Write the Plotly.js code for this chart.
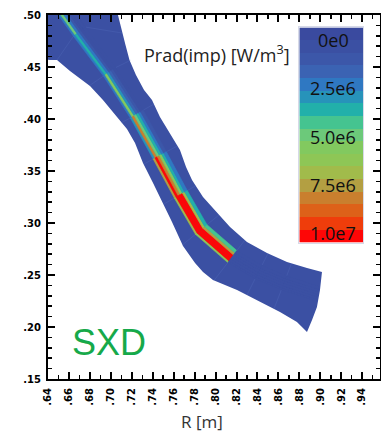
<!DOCTYPE html>
<html><head><meta charset="utf-8">
<script src="https://cdn.plot.ly/plotly-3.0.1.min.js"></script>
<style>html,body{margin:0;padding:0;background:#fff;overflow:hidden}#plot{width:381px;height:432px}</style>
</head><body><div id="plot"></div>
<script>
// ---- axis ticks ----
const xTickVals = [0.64,0.66,0.68,0.70,0.72,0.74,0.76,0.78,0.80,0.82,0.84,0.86,0.88,0.90,0.92,0.94];
const xTickText = ['.64','.66','.68','.70','.72','.74','.76','.78','.80','.82','.84','.86','.88','.90','.92','.94'];
const yTickVals = [0.15,0.20,0.25,0.30,0.35,0.40,0.45,0.50];
const yTickText = ['.15','.20','.25','.30','.35','.40','.45','.50'];

// ---- divertor leg outline (R, Z in m) ----
const legR = [0.5846,0.6324,0.6419,0.6486,0.6610,0.6801,0.6925,0.7059,0.7154,0.7231,0.7307,0.7403,0.7498,0.7584,0.7689,0.7804,0.7880,0.7975,0.8205,0.8396,0.8615,0.8777,0.8873,0.8921,0.8968,0.8997,0.9016,0.8873,0.8682,0.8491,0.8300,0.8138,0.8014,0.7880,0.7775,0.7718,0.7660,0.7565,0.7469,0.7393,0.7317,0.7240,0.7178,0.7140,0.7102,0.7068,0.7059,0.5846];
const legZ = [0.4663,0.4587,0.4567,0.4567,0.4462,0.4317,0.4183,0.4019,0.3904,0.3769,0.3577,0.3385,0.3192,0.3010,0.2779,0.2615,0.2529,0.2452,0.2356,0.2260,0.2144,0.2048,0.1952,0.2067,0.2192,0.2356,0.2529,0.2567,0.2625,0.2712,0.2817,0.2962,0.3096,0.3250,0.3413,0.3538,0.3702,0.3865,0.4019,0.4183,0.4279,0.4423,0.4567,0.4712,0.4856,0.5000,0.5240,0.5240];

// ---- flux surfaces near the separatrix (11 poloidal stations) ----
const pfrR = [0.6405,0.6643,0.6929,0.7186,0.7404,0.7606,0.7808,0.8117,0.8377,0.8628,0.8955];
const pfrZ = [0.5132,0.4796,0.4413,0.4010,0.3615,0.3240,0.2891,0.2619,0.2463,0.2357,0.2250];
const sepR = [0.6419,0.6658,0.6944,0.7202,0.7422,0.7622,0.7823,0.8128,0.8386,0.8634,0.8959];
const sepZ = [0.5144,0.4808,0.4423,0.4019,0.3625,0.3250,0.2904,0.2635,0.2481,0.2375,0.2269];
const r1R = [0.6437,0.6677,0.6964,0.7223,0.7443,0.7643,0.7841,0.8143,0.8396,0.8643,0.8964];
const r1Z = [0.5161,0.4822,0.4437,0.4032,0.3637,0.3262,0.2919,0.2654,0.2502,0.2397,0.2292];
const r2R = [0.6455,0.6696,0.6983,0.7243,0.7464,0.7664,0.7859,0.8157,0.8407,0.8651,0.8969];
const r2Z = [0.5176,0.4837,0.4450,0.4044,0.3648,0.3274,0.2935,0.2673,0.2524,0.2420,0.2316];
const r3R = [0.6473,0.6714,0.7003,0.7264,0.7485,0.7684,0.7878,0.8171,0.8418,0.8660,0.8974];
const r3Z = [0.5192,0.4852,0.4464,0.4057,0.3660,0.3286,0.2950,0.2692,0.2545,0.2442,0.2339];
const r4R = [0.6491,0.6733,0.7023,0.7284,0.7506,0.7705,0.7896,0.8185,0.8429,0.8669,0.8980];
const r4Z = [0.5208,0.4866,0.4478,0.4069,0.3671,0.3297,0.2965,0.2712,0.2566,0.2464,0.2363];
const r5R = [0.6512,0.6756,0.7046,0.7309,0.7530,0.7730,0.7918,0.8203,0.8442,0.8679,0.8986];
const r5Z = [0.5227,0.4884,0.4494,0.4085,0.3685,0.3312,0.2984,0.2735,0.2592,0.2491,0.2391];

// mesh cross-lines ends (stations 1..9)
const meshLR = [0.6486,0.6791,0.7097,0.7317,0.7508,0.7684,0.7985,0.8300,0.8558];
const meshLZ = [0.4567,0.4317,0.3962,0.3567,0.3183,0.2790,0.2447,0.2308,0.2175];
const meshOR = [0.7107,0.7192,0.7412,0.7636,0.7808,0.8033,0.8281,0.8501,0.8725];
const meshOZ = [0.4827,0.4567,0.4144,0.3740,0.3356,0.3077,0.2837,0.2708,0.2612];

// ---- Prad(imp) values [W/m^3] per ring, per poloidal segment (top -> target) ----
const pradPFR  = [2.0e6,2.0e6,2.5e6,3.0e6,7.5e6,7.0e6,6.0e6,3e5,3e5,3e5];
const pradSOL1 = [5.0e6,3.5e6,5.5e6,8.5e6,1.0e7,1.0e7,1.0e7,5e5,4e5,3e5];
const pradSOL2 = [2.5e6,2.0e6,3.0e6,5.0e6,8.0e6,1.0e7,1.0e7,4e5,4e5,3e5];
const pradSOL3 = [1.0e6,1.0e6,1.5e6,3.5e6,5.5e6,1.0e7,1.0e7,3e5,3e5,2e5];
const pradSOL4 = [5e5,5e5,1.0e6,2.0e6,3.5e6,7.0e6,7.5e6,2e5,2e5,2e5];
const pradSOL5 = [2e5,2e5,5e5,1.0e6,2.0e6,3.5e6,4.0e6,1e5,1e5,1e5];

// ---- colour scale (17 discrete levels) ----
const cbColors = ['#3a4a9f','#3b50a3','#3c57a9','#3b63b3','#2f78c2','#2793ba','#22b0aa','#45c490','#6cc97a','#82c95f','#8ec656','#a1bb4b','#b39f42','#c97f2e','#dd6119','#ef3d0b','#fe0606'];
const cbMin = -656250, cbMax = 1.05e7;
const cbTickVals = [0, 2.5e6, 5.0e6, 7.5e6, 1.0e7];
const cbTickText = ['0e0','2.5e6','5.0e6','7.5e6','1.0e7'];

const nBand = cbColors.length;
const bandW = (cbMax - cbMin) / nBand;
function bandColor(v){
  let i = Math.floor((v - cbMin) / bandW + 1e-9);
  i = Math.max(0, Math.min(nBand - 1, i));
  return cbColors[i];
}

const traces = [];
traces.push({type:'scatter', mode:'lines', x:legR, y:legZ, fill:'toself',
  fillcolor: bandColor(0), line:{width:0, color:bandColor(0)}, hoverinfo:'skip', showlegend:false});

// faint mesh lines
const mx = [], my = [];
for (let k = 0; k < meshLR.length; k++) {
  mx.push(meshLR[k], pfrR[k+1], null, r5R[k+1], meshOR[k], null);
  my.push(meshLZ[k], pfrZ[k+1], null, r5Z[k+1], meshOZ[k], null);
}
traces.push({type:'scatter', mode:'lines', x:mx, y:my, line:{width:0.6, color:'rgba(105,135,210,0.3)'},
  hoverinfo:'skip', showlegend:false});

const surfR = [pfrR, sepR, r1R, r2R, r3R, r4R, r5R];
const surfZ = [pfrZ, sepZ, r1Z, r2Z, r3Z, r4Z, r5Z];
const ringVals = [pradPFR, pradSOL1, pradSOL2, pradSOL3, pradSOL4, pradSOL5];
for (let r = 0; r < ringVals.length; r++) {
  for (let k = 0; k < ringVals[r].length; k++) {
    const a = surfR[r], b = surfR[r+1], az = surfZ[r], bz = surfZ[r+1];
    const c = bandColor(ringVals[r][k]);
    traces.push({type:'scatter', mode:'lines',
      x:[a[k], a[k+1], b[k+1], b[k], a[k]],
      y:[az[k], az[k+1], bz[k+1], bz[k], az[k]],
      fill:'toself', fillcolor:c, line:{width:0.6, color:c}, hoverinfo:'skip', showlegend:false});
  }
}

// colour bar drawn as a heatmap on its own axes
const cbCenters = cbColors.map((_, i) => cbMin + (i + 0.5) * bandW);
const cbScale = [];
cbColors.forEach((c, i) => { cbScale.push([i / nBand, c]); cbScale.push([(i + 1) / nBand, c]); });
traces.push({type:'heatmap', xaxis:'x2', yaxis:'y2', x:[0], y:cbCenters, z:cbCenters.map(v => [v]),
  zmin:cbMin, zmax:cbMax, colorscale:cbScale, showscale:false, hoverinfo:'skip'});

const tickFont = {family:'DejaVu Sans', size:10, color:'#000', weight:'bold'};
const annotations = [];
cbTickVals.forEach((v, i) => annotations.push({xref:'x2', yref:'y2', x:0.03, y:v, text:cbTickText[i],
  showarrow:false, xanchor:'center', yanchor:'middle', font:{family:'Open Sans', size:18, color:'#111'}}));
annotations.push({xref:'paper', yref:'paper', x:0.282, y:0.893, xanchor:'left', yanchor:'middle',
  text:'Prad(imp) [W/m<sup>3</sup>]', showarrow:false, font:{family:'Open Sans', size:18, color:'#222'}});
annotations.push({xref:'paper', yref:'paper', x:0.066, y:0.100, xanchor:'left', yanchor:'middle',
  text:'SXD', showarrow:false, font:{family:'Liberation Sans', size:36, color:'#16a94a'}});
annotations.push({xref:'paper', yref:'paper', x:0.464, y:-0.1154, xanchor:'center', yanchor:'middle',
  text:'R [m]', showarrow:false, font:{family:'Open Sans', size:17, color:'#333'}});

const layout = {
  width:381, height:432, margin:{l:48, r:1, t:15, b:53},
  paper_bgcolor:'#fff', plot_bgcolor:'rgba(0,0,0,0)', showlegend:false,
  xaxis:{range:[0.64,0.957], tickmode:'array', tickvals:xTickVals, ticktext:xTickText, tickangle:-90,
    ticks:'inside', ticklen:7, tickwidth:2, tickcolor:'#000', showline:true, linewidth:2, linecolor:'#000',
    mirror:'allticks', showgrid:false, zeroline:false, tickfont:tickFont, ticklabelstandoff:3,
    minor:{tickmode:'linear', tick0:0.64, dtick:0.01, ticks:'inside', ticklen:4, tickwidth:1.5, tickcolor:'#000', showgrid:false}},
  yaxis:{range:[0.15,0.50], tickmode:'array', tickvals:yTickVals, ticktext:yTickText,
    ticks:'inside', ticklen:7, tickwidth:2, tickcolor:'#000', showline:true, linewidth:2, linecolor:'#000',
    mirror:'allticks', showgrid:false, zeroline:false, tickfont:tickFont, ticklabelstandoff:3,
    minor:{tickmode:'linear', tick0:0.15, dtick:0.01, ticks:'inside', ticklen:4, tickwidth:1.5, tickcolor:'#000', showgrid:false}},
  xaxis2:{domain:[0.757,0.950], anchor:'y2', range:[-0.5,0.5], showticklabels:false, ticks:'',
    showgrid:false, zeroline:false, showline:true, mirror:true, linecolor:'#d6d9e8', linewidth:1},
  yaxis2:{domain:[0.3745,0.966], anchor:'x2', range:[cbMax, cbMin], showticklabels:false, ticks:'',
    showgrid:false, zeroline:false, showline:true, mirror:true, linecolor:'#d6d9e8', linewidth:1},
  annotations: annotations
};

Plotly.newPlot('plot', traces, layout, {staticPlot:true, displayModeBar:false});
</script></body></html>
